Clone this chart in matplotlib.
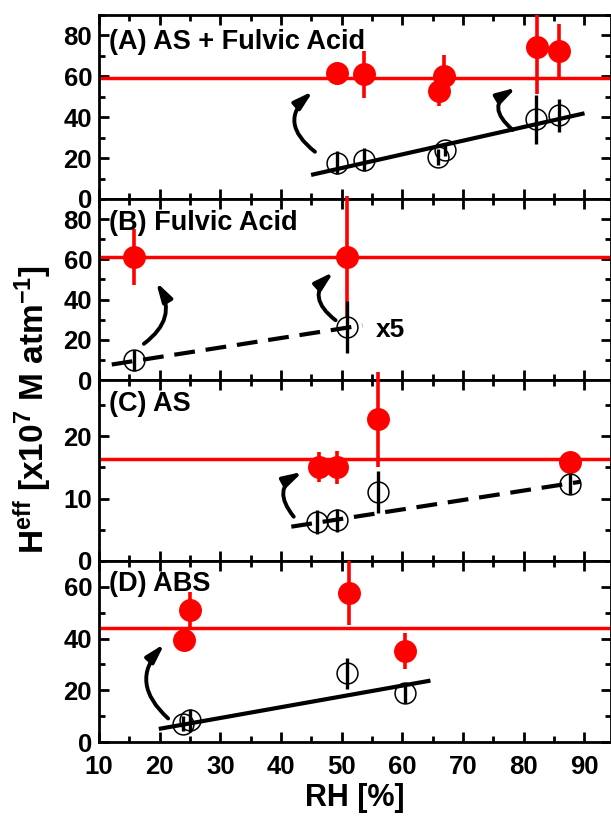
import numpy as np
import matplotlib
matplotlib.use("Agg")
import matplotlib.pyplot as plt
from matplotlib.patches import FancyArrowPatch
from matplotlib.ticker import MultipleLocator

plt.rcParams['font.family'] = ['Liberation Sans', 'DejaVu Sans']
plt.rcParams['font.weight'] = 'bold'
plt.rcParams['mathtext.fontset'] = 'custom'
plt.rcParams['mathtext.rm'] = 'Liberation Sans:bold'
plt.rcParams['mathtext.bf'] = 'Liberation Sans:bold'
plt.rcParams['mathtext.it'] = 'Liberation Sans:bold'
plt.rcParams['mathtext.default'] = 'rm'

# ---- data (RH in %, Heff in 1e7 M/atm) ----
# (A) AS + Fulvic Acid
a_rh_red = [49.2, 53.7, 66.0, 66.9, 82.2, 85.9]
a_h_red = [61.4, 61.1, 52.8, 60.2, 74.3, 72.6]
a_e_red = [5.5, 11.5, 7.4, 10.4, 22.8, 13.0]
a_rh_open = [49.2, 53.7, 65.9, 67.1, 82.0, 85.9]
a_h_open = [17.7, 19.3, 20.6, 23.9, 39.1, 40.9]
a_e_open = [5.6, 5.6, 4.0, 3.0, 12.0, 8.0]
a_mean = 59.4
a_fit_rh = [45.3, 89.7]
a_fit_h = [12.0, 41.7]

# (B) Fulvic Acid
b_rh_red = [15.7, 50.9]
b_h_red = [61.3, 61.3]
b_e_red = [14.0, 30.0]
b_rh_open = [15.7, 50.9]
b_h_open = [9.7, 26.3]
b_e_open = [5.0, 12.9]
b_mean = 61.3
b_fit_rh = [12.1, 53.4]
b_fit_h = [7.7, 27.2]

# (C) AS
c_rh_red = [46.2, 49.2, 56.0, 87.7]
c_h_red = [15.1, 15.0, 22.7, 15.8]
c_e_red = [2.4, 2.7, 7.6, 1.2]
c_rh_open = [46.0, 49.2, 56.0, 87.7]
c_h_open = [6.2, 6.5, 11.1, 12.3]
c_e_open = [1.9, 1.9, 3.4, 1.6]
c_mean = 16.4
c_fit_rh = [41.7, 89.4]
c_fit_h = [5.5, 12.7]

# (D) ABS
d_rh_red = [24.0, 25.0, 51.2, 60.4]
d_h_red = [39.5, 51.2, 57.6, 35.2]
d_e_red = [2.0, 6.8, 12.3, 7.0]
d_rh_open = [23.8, 25.0, 50.9, 60.4]
d_h_open = [7.1, 8.4, 26.6, 19.0]
d_e_open = [3.0, 4.5, 6.0, 3.9]
d_mean = 44.0
d_fit_rh = [20.2, 64.3]
d_fit_h = [5.2, 23.6]

# curved arrows: (start, end, rad)
a_arrows = [((45.6, 23.1), (45.3, 52.8), -0.6), ((78.2, 33.8), (78.8, 54.5), -0.7)]
b_arrows = [((17.4, 18.0), (19.4, 48.8), 0.45), ((49.0, 29.7), (48.7, 53.8), -0.6)]
c_arrows = [((42.1, 7.1), (43.6, 14.3), -0.6)]
d_arrows = [((21.4, 9.1), (20.8, 38.0), -0.5)]

panels = [
    dict(label='(A) AS + Fulvic Acid', lab_y=73.4, ylim=90, major=20, minor=10,
         rr=a_rh_red, hr=a_h_red, er=a_e_red, ro=a_rh_open, ho=a_h_open, eo=a_e_open,
         mean=a_mean, frh=a_fit_rh, fh=a_fit_h, ls='-', arrows=a_arrows, clip=True),
    dict(label='(B) Fulvic Acid', lab_y=74.7, ylim=90, major=20, minor=10,
         rr=b_rh_red, hr=b_h_red, er=b_e_red, ro=b_rh_open, ho=b_h_open, eo=b_e_open,
         mean=b_mean, frh=b_fit_rh, fh=b_fit_h, ls=(0, (5, 2.6)), arrows=b_arrows, clip=False),
    dict(label='(C) AS', lab_y=24.05, ylim=29, major=10, minor=5,
         rr=c_rh_red, hr=c_h_red, er=c_e_red, ro=c_rh_open, ho=c_h_open, eo=c_e_open,
         mean=c_mean, frh=c_fit_rh, fh=c_fit_h, ls=(0, (5, 2.6)), arrows=c_arrows, clip=False),
    dict(label='(D) ABS', lab_y=58.3, ylim=70, major=20, minor=10,
         rr=d_rh_red, hr=d_h_red, er=d_e_red, ro=d_rh_open, ho=d_h_open, eo=d_e_open,
         mean=d_mean, frh=d_fit_rh, fh=d_fit_h, ls='-', arrows=d_arrows, clip=True),
]

fig = plt.figure(figsize=(6.11, 8.16), dpi=100)
W, H = 611.0, 816.0
left, right = 99.0, 611.0
tops = [15, 199, 380, 561]
bots = [199, 380, 561, 742]

for i, p in enumerate(panels):
    ax = fig.add_axes([left / W, 1 - bots[i] / H, (right - left) / W, (bots[i] - tops[i]) / H])
    ax.set_xlim(10, 94.4)
    ax.set_ylim(0, p['ylim'])
    ax.xaxis.set_major_locator(MultipleLocator(10))
    ax.xaxis.set_minor_locator(MultipleLocator(5))
    ax.yaxis.set_major_locator(MultipleLocator(p['major']))
    ax.yaxis.set_minor_locator(MultipleLocator(p['minor']))
    ax.tick_params(which='both', direction='in', top=True, right=True, width=2, labelsize=18.5)
    ax.tick_params(which='major', length=7, pad=5)
    ax.tick_params(which='minor', length=4)
    ax.tick_params(axis='x', pad=9)
    for s in ax.spines.values():
        s.set_linewidth(2)
    if i < 3:
        ax.tick_params(axis='x', labelbottom=False)
    for t in ax.get_yticklabels() + ax.get_xticklabels():
        t.set_fontweight('bold')

    ax.axhline(p['mean'], color='red', lw=2.5, zorder=2)
    ax.vlines(p['rr'], np.array(p['hr']) - np.array(p['er']), np.array(p['hr']) + np.array(p['er']),
              color='red', lw=2.6, zorder=3, clip_on=p['clip'])
    ax.plot(p['rr'], p['hr'], 'o', color='red', ms=15.5, mec='red', zorder=4)
    ax.plot(p['frh'], p['fh'], color='black', lw=3, ls=p['ls'], zorder=5)
    ax.vlines(p['ro'], np.array(p['ho']) - np.array(p['eo']), np.array(p['ho']) + np.array(p['eo']),
              color='black', lw=2.4, zorder=5)
    ax.plot(p['ro'], p['ho'], 'o', mfc='none', mec='black', mew=1.1, ms=15, zorder=6)

    for (st, en, rad) in p['arrows']:
        arr = FancyArrowPatch(st, en, connectionstyle='arc3,rad=%s' % rad,
                              arrowstyle='-|>,head_length=0.7,head_width=0.2',
                              mutation_scale=16, lw=2.8, color='black', zorder=7,
                              shrinkA=0, shrinkB=0)
        ax.add_patch(arr)

    ax.text(11.7, p['lab_y'], p['label'], fontsize=19.5, fontweight='bold', ha='left', va='baseline')
    if i == 1:
        ax.text(55.6, 21.3, 'x5', fontsize=19, fontweight='bold', ha='left', va='baseline')
    if i == 3:
        ax.set_xlabel('RH [%]', fontsize=22, fontweight='bold', labelpad=3)

fig.text(33 / W, 1 - 410 / H, r'H$^{eff}$ [x10$^{7}$ M atm$^{-1}$]', rotation=90,
         fontsize=24, fontweight='bold', ha='center', va='center')

fig.savefig('out.png', dpi=100)
